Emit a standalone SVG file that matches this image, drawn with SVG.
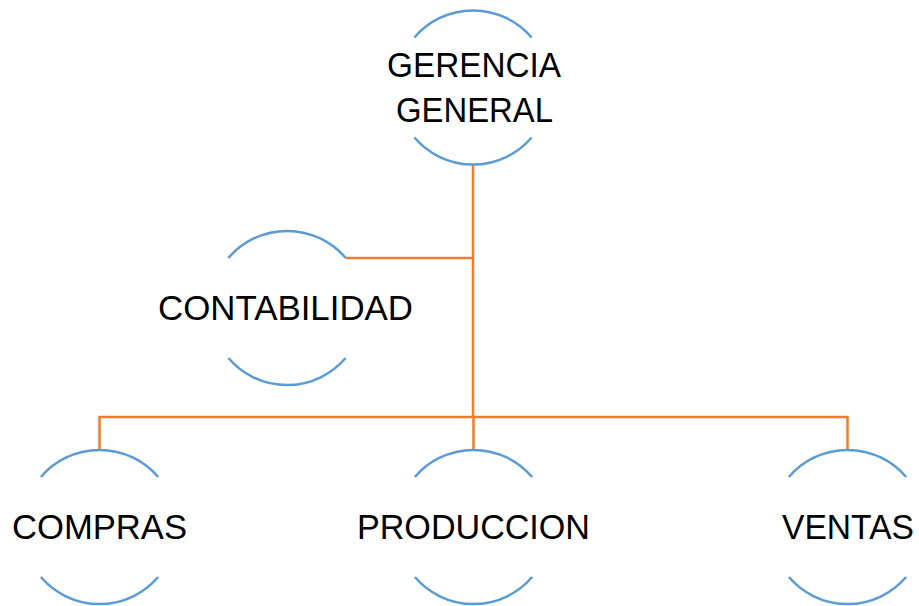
<svg xmlns="http://www.w3.org/2000/svg" width="919" height="606" viewBox="0 0 919 606">
  <style>
    .arc { fill: none; stroke: #5B9BD5; stroke-width: 2.5; }
    .link { fill: none; stroke: #ED7D31; stroke-width: 2.5; }
    .label { font-family: "Liberation Sans", Arial, sans-serif; font-size: 35px; fill: #000; text-anchor: middle; }
  </style>
  <rect width="919" height="606" fill="#fff"/>

  <!-- Org chart connectors -->
  <g id="connectors">
    <path class="link" d="M473,164.5 V417"/>
    <path class="link" d="M345.6,258 H473"/>
    <path class="link" d="M99.5,450 V417 H847.5 V450"/>
    <path class="link" d="M473.5,417 V450"/>
  </g>

  <g id="gerencia">
    <path class="arc" d="M414.4,37.5 A77,77 0 0 1 531.6,37.5"/>
    <path class="arc" d="M414.4,137.5 A77,77 0 0 0 531.6,137.5"/>
    <text class="label" x="474" y="77" textLength="174" lengthAdjust="spacingAndGlyphs">GERENCIA</text>
    <text class="label" x="474.5" y="122" textLength="157" lengthAdjust="spacingAndGlyphs">GENERAL</text>
  </g>

  <g id="contabilidad">
    <path class="arc" d="M228.4,258 A77,77 0 0 1 345.6,258"/>
    <path class="arc" d="M228.4,358 A77,77 0 0 0 345.6,358"/>
    <text class="label" x="285.5" y="320" textLength="255" lengthAdjust="spacingAndGlyphs">CONTABILIDAD</text>
  </g>

  <g id="compras">
    <path class="arc" d="M40.9,477 A77,77 0 0 1 158.1,477"/>
    <path class="arc" d="M40.9,577 A77,77 0 0 0 158.1,577"/>
    <text class="label" x="99.5" y="539" textLength="175" lengthAdjust="spacingAndGlyphs">COMPRAS</text>
  </g>

  <g id="produccion">
    <path class="arc" d="M414.9,477 A77,77 0 0 1 532.1,477"/>
    <path class="arc" d="M414.9,577 A77,77 0 0 0 532.1,577"/>
    <text class="label" x="473.5" y="539" textLength="233" lengthAdjust="spacingAndGlyphs">PRODUCCION</text>
  </g>

  <g id="ventas">
    <path class="arc" d="M788.9,477 A77,77 0 0 1 906.1,477"/>
    <path class="arc" d="M788.9,577 A77,77 0 0 0 906.1,577"/>
    <text class="label" x="848" y="539" textLength="132" lengthAdjust="spacingAndGlyphs">VENTAS</text>
  </g>
</svg>
